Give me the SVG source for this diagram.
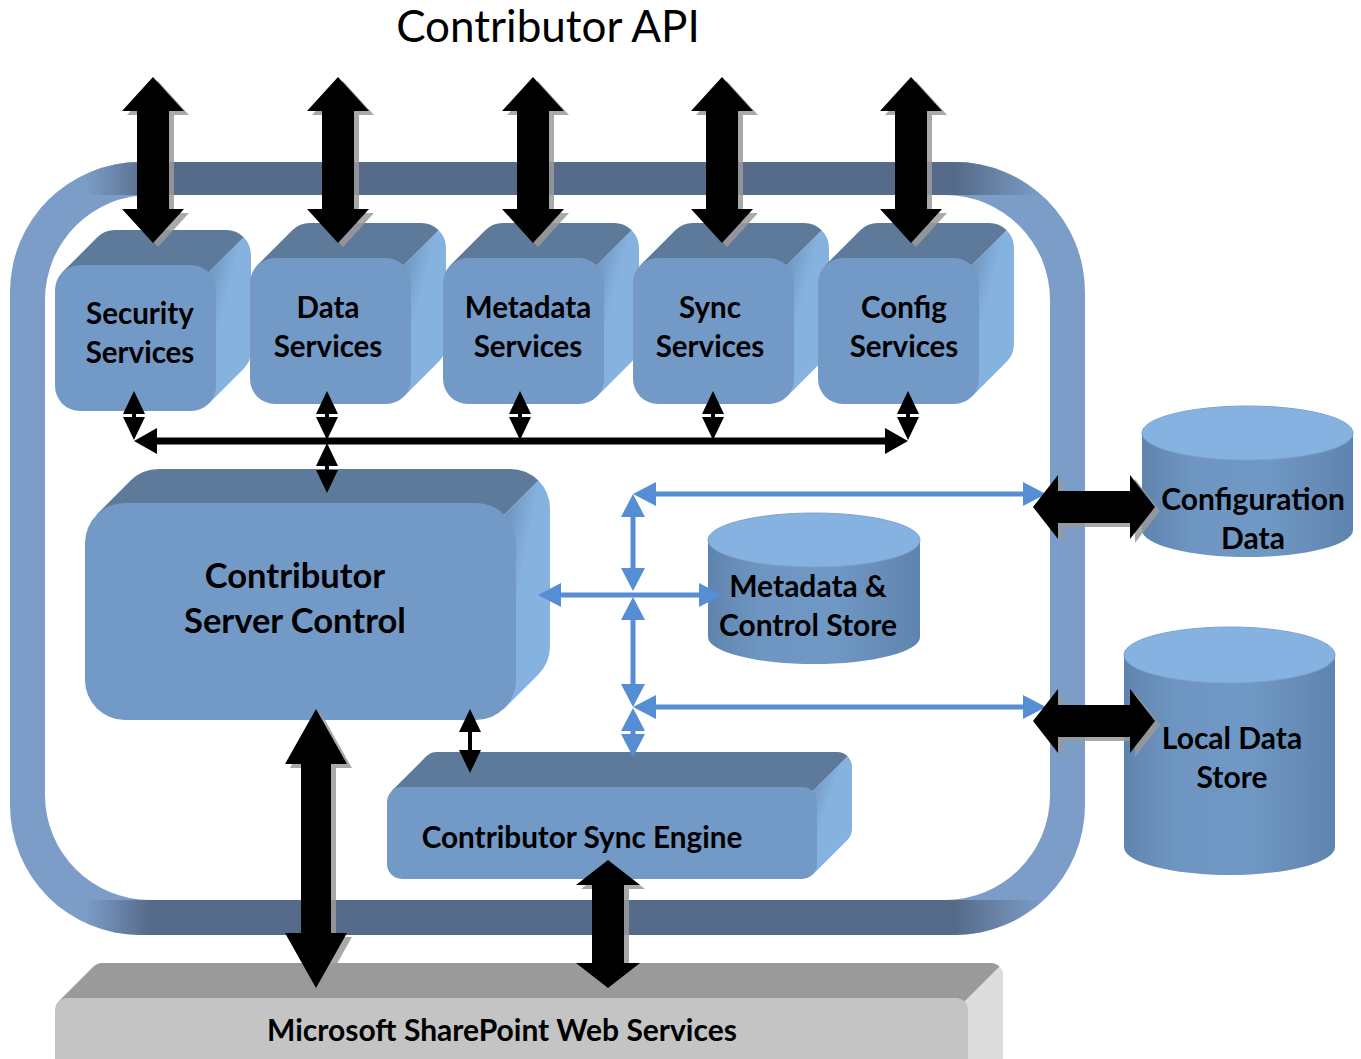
<svg xmlns="http://www.w3.org/2000/svg" width="1361" height="1059" viewBox="0 0 1361 1059">
<style>
.front{fill:#7399c6}
.top{fill:#5d7a9a}
.side{fill:url(#sideG)}
.lbl{font-family:Lato,"Liberation Sans",sans-serif;font-weight:bold;fill:#000;text-anchor:middle}
.blue{stroke:#558ed5;stroke-width:5;fill:none;marker-start:url(#bh);marker-end:url(#bh)}
.blk{stroke:#000;stroke-width:4;fill:none;marker-start:url(#kh);marker-end:url(#kh)}
.shadow{fill:#9a9a9a;opacity:0.85}
.cylbody{fill:url(#cylG)}
.cyltop{fill:#86b2e1;stroke:#7aa3d0;stroke-width:1}
</style>
<defs>
<linearGradient id="sideG" x1="0" y1="0" x2="1" y2="1">
<stop offset="0" stop-color="#6a8cb5"/>
<stop offset="0.4" stop-color="#86b2e0"/>
<stop offset="1" stop-color="#86b2e0"/>
</linearGradient>
<linearGradient id="cylG" x1="0" y1="0" x2="1" y2="0">
<stop offset="0" stop-color="#5f84ae"/>
<stop offset="0.25" stop-color="#6f96c2"/>
<stop offset="0.6" stop-color="#7098c4"/>
<stop offset="1" stop-color="#5f84ae"/>
</linearGradient>
<linearGradient id="bandG" gradientUnits="userSpaceOnUse" x1="10" y1="0" x2="1085" y2="0">
<stop offset="0.07" stop-color="#566b8a" stop-opacity="0"/>
<stop offset="0.13" stop-color="#566b8a" stop-opacity="1"/>
<stop offset="0.88" stop-color="#566b8a" stop-opacity="1"/>
<stop offset="0.96" stop-color="#566b8a" stop-opacity="0"/>
</linearGradient>
<clipPath id="outerClip"><rect x="10" y="162" width="1075" height="773" rx="130"/></clipPath>
<marker id="bh" viewBox="0 0 23 24" refX="15" refY="12" markerWidth="23" markerHeight="24" markerUnits="userSpaceOnUse" orient="auto-start-reverse"><path d="M0,0 L23,12 L0,24 z" fill="#558ed5"/></marker>
<marker id="kh" viewBox="0 0 23 22" refX="15" refY="11" markerWidth="23" markerHeight="22" markerUnits="userSpaceOnUse" orient="auto-start-reverse"><path d="M0,0 L23,11 L0,22 z" fill="#000"/></marker>
<marker id="kh2" viewBox="0 0 23 26" refX="15" refY="13" markerWidth="23" markerHeight="26" markerUnits="userSpaceOnUse" orient="auto-start-reverse"><path d="M0,0 L23,13 L0,26 z" fill="#000"/></marker>
<g id="svcBox">
<path class="side" d="M153.7,7.3 L188.7,-27.7 A25 25 0 0 1 196,-10 L196,86 A25 25 0 0 1 188.7,103.7 L153.7,138.7 Z"/>
<path class="top" d="M7.3,7.3 L42.3,-27.7 A25 25 0 0 1 60,-35 L171,-35 A25 25 0 0 1 188.7,-27.7 L153.7,7.3 Z"/>
<rect class="front" x="0" y="0" width="161" height="146" rx="25"/>
</g>
<polygon id="topArrow" points="0,77 31,111 16,111 16,209 31,209 0,243 -31,209 -16,209 -16,111 -31,111"/>
</defs>

<rect width="1361" height="1059" fill="#ffffff"/>

<text x="548" y="42" font-family="Lato,'Liberation Sans',sans-serif" font-size="44" text-anchor="middle" fill="#000">Contributor API</text>

<g id="container">
<rect x="10" y="162" width="1075" height="773" rx="130" fill="#7c9dc7"/>
<g clip-path="url(#outerClip)">
<rect x="10" y="160" width="1075" height="35" fill="url(#bandG)"/>
<rect x="10" y="900" width="1075" height="36" fill="url(#bandG)"/>
</g>
<rect x="45" y="195" width="1005" height="705" rx="105" fill="#ffffff"/>
</g>

<g id="security-services">
<use href="#svcBox" transform="translate(55,265)"/>
<text class="lbl" x="140" y="324" font-size="29.5">Security</text>
<text class="lbl" x="140" y="363" font-size="29.5">Services</text>
</g>
<g id="data-services">
<use href="#svcBox" transform="translate(250,258)"/>
<text class="lbl" x="328" y="318" font-size="29.5">Data</text>
<text class="lbl" x="328" y="357" font-size="29.5">Services</text>
</g>
<g id="metadata-services">
<use href="#svcBox" transform="translate(443,258)"/>
<text class="lbl" x="528" y="318" font-size="29.5">Metadata</text>
<text class="lbl" x="528" y="357" font-size="29.5">Services</text>
</g>
<g id="sync-services">
<use href="#svcBox" transform="translate(633,258)"/>
<text class="lbl" x="710" y="318" font-size="29.5">Sync</text>
<text class="lbl" x="710" y="357" font-size="29.5">Services</text>
</g>
<g id="config-services">
<use href="#svcBox" transform="translate(818,258)"/>
<text class="lbl" x="904" y="318" font-size="29.5">Config</text>
<text class="lbl" x="904" y="357" font-size="29.5">Services</text>
</g>

<g id="server-control">
<path class="side" d="M504.4,514.6 L538.4,480.6 A40 40 0 0 1 550,509 L550,646 A40 40 0 0 1 538.4,674.4 L504.4,708.4 Z"/>
<path class="top" d="M96.6,514.6 L130.6,480.6 A40 40 0 0 1 159,469 L510,469 A40 40 0 0 1 538.4,480.6 L504.4,514.6 Z"/>
<rect class="front" x="85" y="503" width="431" height="217" rx="40"/>
<text class="lbl" x="295" y="588" font-size="34.5">Contributor</text>
<text class="lbl" x="295" y="633" font-size="34.5">Server Control</text>
</g>

<g id="sync-engine">
<path class="side" d="M812.65,791.35 L847.65,756.35 A15 15 0 0 1 852,767 L852,829 A15 15 0 0 1 847.65,839.65 L812.65,874.65 Z"/>
<path class="top" d="M391.35,791.35 L426.35,756.35 A15 15 0 0 1 437,752 L837,752 A15 15 0 0 1 847.65,756.35 L812.65,791.35 Z"/>
<rect class="front" x="387" y="787" width="430" height="92" rx="15"/>
<text class="lbl" x="582" y="848" font-size="29.7">Contributor Sync Engine</text>
</g>

<g id="metadata-store">
<path class="cylbody" d="M708,540 L708,637 A106 27 0 0 0 920,637 L920,540 Z"/>
<ellipse class="cyltop" cx="814" cy="540" rx="106" ry="27"/>
<text class="lbl" x="808" y="597" font-size="30">Metadata &amp;</text>
<text class="lbl" x="808" y="636" font-size="30">Control Store</text>
</g>

<g id="configuration-data">
<path class="cylbody" d="M1142,433 L1142,530 A105.5 27 0 0 0 1353,530 L1353,433 Z"/>
<ellipse class="cyltop" cx="1247.5" cy="433" rx="105.5" ry="27"/>
<text class="lbl" x="1253" y="510" font-size="30">Configuration</text>
<text class="lbl" x="1253" y="549" font-size="30">Data</text>
</g>

<g id="local-data-store">
<path class="cylbody" d="M1124,655 L1124,847 A105.5 28 0 0 0 1335,847 L1335,655 Z"/>
<ellipse class="cyltop" cx="1229.5" cy="655" rx="105.5" ry="28"/>
<text class="lbl" x="1232" y="749" font-size="30">Local Data</text>
<text class="lbl" x="1232" y="788" font-size="30">Store</text>
</g>

<g id="sharepoint">
<path d="M964.5,1001.5 L999.5,966.5 A12 12 0 0 1 1003,975 L1003,1059 L968,1059 Z" fill="#dcdcdc"/>
<path d="M58.5,1001.5 L93.5,966.5 A12 12 0 0 1 102,963 L991,963 A12 12 0 0 1 999.5,966.5 L964.5,1001.5 Z" fill="#9a9a9a"/>
<rect x="55" y="998" width="913" height="80" rx="12" fill="#c4c4c4"/>
<text class="lbl" x="502" y="1041" font-size="30">Microsoft SharePoint Web Services</text>
</g>

<g id="connectors">
<line class="blue" x1="641" y1="494" x2="1038" y2="494"/>
<line class="blue" x1="633" y1="502" x2="633" y2="583"/>
<line class="blue" x1="546" y1="595" x2="714" y2="595"/>
<line class="blue" x1="633" y1="605" x2="633" y2="699"/>
<line class="blue" x1="641" y1="707" x2="1038" y2="707"/>
<line class="blue" x1="633" y1="716" x2="633" y2="749"/>

<line x1="142" y1="441" x2="900" y2="441" stroke="#000" stroke-width="7" marker-start="url(#kh2)" marker-end="url(#kh2)"/>
<line class="blk" x1="134" y1="399" x2="134" y2="432"/>
<line class="blk" x1="327" y1="399" x2="327" y2="432"/>
<line class="blk" x1="520" y1="399" x2="520" y2="432"/>
<line class="blk" x1="713" y1="399" x2="713" y2="432"/>
<line class="blk" x1="908" y1="399" x2="908" y2="432"/>
<line class="blk" x1="327" y1="451" x2="327" y2="485"/>
<line class="blk" x1="470" y1="717" x2="470" y2="765"/>

<use href="#topArrow" class="shadow" transform="translate(158,4)"/>
<use href="#topArrow" class="shadow" transform="translate(343,4)"/>
<use href="#topArrow" class="shadow" transform="translate(538,4)"/>
<use href="#topArrow" class="shadow" transform="translate(727,4)"/>
<use href="#topArrow" class="shadow" transform="translate(916,4)"/>
<use href="#topArrow" fill="#000" transform="translate(153,0)"/>
<use href="#topArrow" fill="#000" transform="translate(338,0)"/>
<use href="#topArrow" fill="#000" transform="translate(533,0)"/>
<use href="#topArrow" fill="#000" transform="translate(722,0)"/>
<use href="#topArrow" fill="#000" transform="translate(911,0)"/>

<g transform="translate(5,4)" class="shadow">
<polygon points="316,709 347,764 331,764 331,933 347,933 316,988 285,933 301,933 301,764 285,764"/>
<polygon points="608,860 640,885 624,885 624,963 640,963 608,988 576,963 592,963 592,885 576,885"/>
<polygon points="1033,507 1058,475 1058,491 1130,491 1130,475 1155,507 1130,539 1130,523 1058,523 1058,539"/>
<polygon points="1033,721 1058,689 1058,705 1130,705 1130,689 1155,721 1130,753 1130,737 1058,737 1058,753"/>
</g>
<polygon fill="#000" points="316,709 347,764 331,764 331,933 347,933 316,988 285,933 301,933 301,764 285,764"/>
<polygon fill="#000" points="608,860 640,885 624,885 624,963 640,963 608,988 576,963 592,963 592,885 576,885"/>
<polygon fill="#000" points="1033,507 1058,475 1058,491 1130,491 1130,475 1155,507 1130,539 1130,523 1058,523 1058,539"/>
<polygon fill="#000" points="1033,721 1058,689 1058,705 1130,705 1130,689 1155,721 1130,753 1130,737 1058,737 1058,753"/>
</g>
</svg>
